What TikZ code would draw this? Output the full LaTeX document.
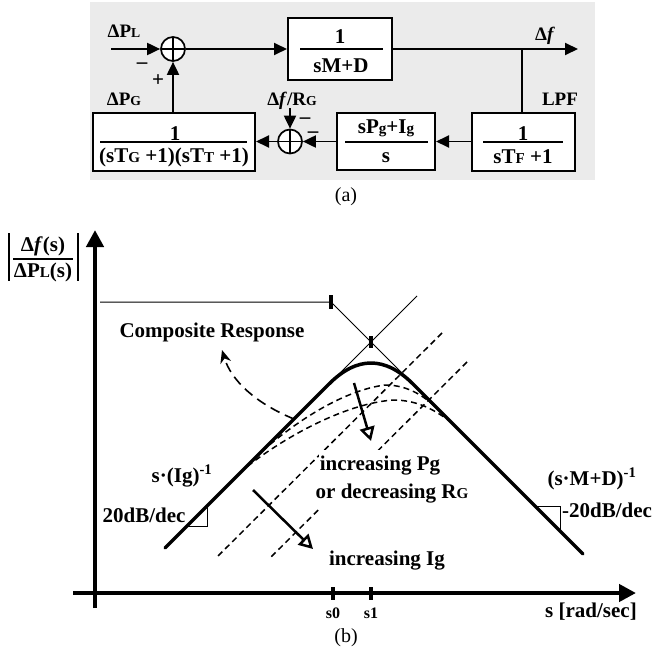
\documentclass[tikz,border=0pt]{standalone}
\usepackage{graphicx}
\usepackage{fontspec}
\setmainfont{Liberation Serif}
\usetikzlibrary{arrows.meta,calc}
\newcommand{\smc}[1]{\scalebox{0.72}{#1}}
\definecolor{bgc}{HTML}{EBEBEB}
\begin{document}
\begin{tikzpicture}[x=1pt,y=-1pt,
  lbl/.style={font=\fontsize{19}{22}\selectfont\bfseries, inner sep=0pt},
  big/.style={font=\fontsize{21}{24}\selectfont\bfseries, inner sep=0pt},
  captxt/.style={font=\fontsize{20}{24}\selectfont, inner sep=0pt},
  small/.style={font=\fontsize{16}{18}\selectfont\bfseries, inner sep=0pt},
  blk/.style={draw, line width=2pt, fill=white, inner sep=0pt},
  sumj/.style={draw, circle, line width=1.7pt, minimum size=24pt, inner sep=0pt, fill=white,
    path picture={\draw[line width=1.5pt] (path picture bounding box.north) -- (path picture bounding box.south) (path picture bounding box.west) -- (path picture bounding box.east);}},
  flow/.style={line width=1.9pt, -{Triangle[length=13pt,width=12pt]}},
  wire/.style={line width=1.9pt},
  fracline/.style={line width=1.6pt},
  axis/.style={line width=4.5pt, -{Triangle[length=17pt,width=17pt]}},
  thinl/.style={line width=1pt},
  tickm/.style={line width=4pt},
  resp/.style={line width=3.5pt, line cap=round},
  dsh/.style={line width=1.5pt, dash pattern=on 6pt off 4pt},
  trend/.style={line width=2.5pt, -{Triangle[open,length=14pt,width=15pt]}},
  lead/.style={line width=1.6pt, dash pattern=on 10pt off 6pt, -{Stealth[length=13pt,width=11pt]}},
]
\useasboundingbox (0,0) rectangle (658,653);
\fill[bgc] (90,2) rectangle (595,180);

% ---------- (a) block diagram ----------
\node[sumj] (sj1) at (173,49) {};
\node[blk, minimum width=104pt, minimum height=62pt] (b1) at (340,49) {};
\node[blk, minimum width=103pt, minimum height=58pt] (b4) at (523.5,141.5) {};
\node[blk, minimum width=98pt, minimum height=57pt] (b3) at (386,141.5) {};
\node[sumj] (sj2) at (290,141.5) {};
\node[blk, minimum width=162pt, minimum height=58pt] (b2) at (174,141.5) {};

\node[big, anchor=base] (b1n) at (340,43) {1};
\draw[fracline] (300,49) -- (383,49);
\node[big, anchor=base] (b1d) at (341,72) {sM+D};

\node[big, anchor=base] (b4n) at (523,140) {1};
\draw[fracline] (483,142) -- (563,142);
\node[big, anchor=base] (b4d) at (523,163) {sT\smc{F} +1};

\node[big, anchor=base] (b3n) at (386,133) {sP\smc{g}+I\smc{g}};
\draw[fracline] (345,142) -- (428,142);
\node[big, anchor=base] (b3d) at (386,162) {s};

\node[big, anchor=base] (b2n) at (175,140) {1};
\draw[fracline] (100,142) -- (247,142);
\node[big, anchor=base] (b2d) at (174,162) {(sT\smc{G} +1)(sT\smc{T} +1)};

\node[lbl, anchor=base] (lPL) at (124,37) {ΔP\smc{L}};
\node[lbl, anchor=base] (lPG) at (124,105) {ΔP\smc{G}};
\node[lbl, anchor=base] (ldf) at (545,40) {Δ\textit{f}};
\node[lbl, anchor=base] (lLPF) at (560,105) {LPF};
\node[lbl, anchor=base] (ldfr) at (292,105) {Δ\textit{f}/R\smc{G}};
\node[big, anchor=base] (m1) at (142,68) {–};
\node[big, anchor=base] (p1) at (158,86) {+};
\node[big, anchor=base] (m2) at (305,123) {–};
\node[big, anchor=base] (m3) at (313,137) {–};

\coordinate (inL) at (111,49);
\coordinate (out) at (578,49);
\coordinate (jn) at (522,49);
\coordinate (dfin) at (290,108);
\draw[flow] (inL) -- (sj1);
\draw[flow] (sj1) -- (b1);
\draw[flow] (b1) -- (out);
\draw[wire] (jn) -- (jn |- b4.north);
\draw[flow] (b4) -- (b3);
\draw[flow] (b3) -- (sj2);
\draw[flow] (dfin) -- (sj2);
\draw[flow] (sj2) -- (b2);
\draw[flow] (b2.north -| sj1) -- (sj1);

\node[captxt] (capa) at (346,197) {(a)};

% ---------- (b) Bode sketch ----------
\coordinate (ybot) at (95,608);
\coordinate (ytop) at (95,230);
\coordinate (xl) at (73,593);
\coordinate (xr) at (636,593);
\draw[axis] (ybot) -- (ytop);
\draw[axis] (xl) -- (xr);

\node[big, anchor=base] (yn) at (43,251) {Δ\textit{f}(s)};
\draw[fracline] (13,259) -- (73,259);
\node[big, anchor=base] (yd) at (43,277) {ΔP\smc{L}(s)};
\draw[line width=1.5pt] (9,233) -- (9,281) (78,233) -- (78,281);

% asymptotes
\coordinate (h0) at (100,302);
\coordinate (k0) at (331,302);
\draw[thinl] (h0) -- (k0) -- (420,391);
\draw[thinl] (417,296) -- (325,388);
\draw[tickm] (331,295) -- (331,309);
\draw[tickm] (371,336) -- (371,348);

% composite response
\draw[resp] (165,548) -- (329,384) .. controls (357,356) and (385,356) .. (413,384) -- (583,554);

% dashed responses
\draw[dsh] (255,458) .. controls (270,443) and (330,392) .. (385,385) .. controls (410,385) and (427,398) .. (443,414);
\draw[dsh] (240,473) .. controls (255,458) and (330,405) .. (393,400) .. controls (420,400) and (437,412) .. (451,422);
\draw[dsh] (442,333) -- (217,557);
\draw[dsh] (467,362) -- (270,558);

% trend arrows
\draw[trend] (354,383) -- (371,441);
\draw[trend] (253,490) -- (313,549);

% labels
\node[big, anchor=base] (comp) at (212,337) {Composite Response};
\draw[lead] (294,419) .. controls (255,403) and (231,380) .. (222,350);
\node[big, anchor=base] (sIg) at (182,482) {s·(Ig)\textsuperscript{-1}};
\node[big, anchor=base] (p20) at (144,522) {20dB/dec};
\draw[thinl] (187,526) -- (207,526) -- (207,506);
\node[big, anchor=base] (sMD) at (592,485) {(s·M+D)\textsuperscript{-1}};
\node[big, anchor=base] (m20) at (607,517) {-20dB/dec};
\draw[thinl] (535,506) -- (560,506) -- (560,531);
\node[big, anchor=base, fill=white, inner ysep=5pt, inner xsep=1pt] (iPg) at (380,470) {increasing Pg};
\node[big, anchor=base, fill=white, inner ysep=5pt, inner xsep=1pt] (dRG) at (392,498) {or decreasing R\smc{G}};
\node[big, anchor=base] (iIg) at (387,565) {increasing Ig};

\draw[tickm] (333,587) -- (333,600);
\draw[tickm] (371,587) -- (371,600);
\node[small, anchor=base] (s0l) at (333,618) {s0};
\node[small, anchor=base] (s1l) at (371,618) {s1};
\node[big, anchor=base] (sx) at (591,617) {s [rad/sec]};
\node[captxt] (capb) at (346,638) {(b)};
\end{tikzpicture}
\end{document}
